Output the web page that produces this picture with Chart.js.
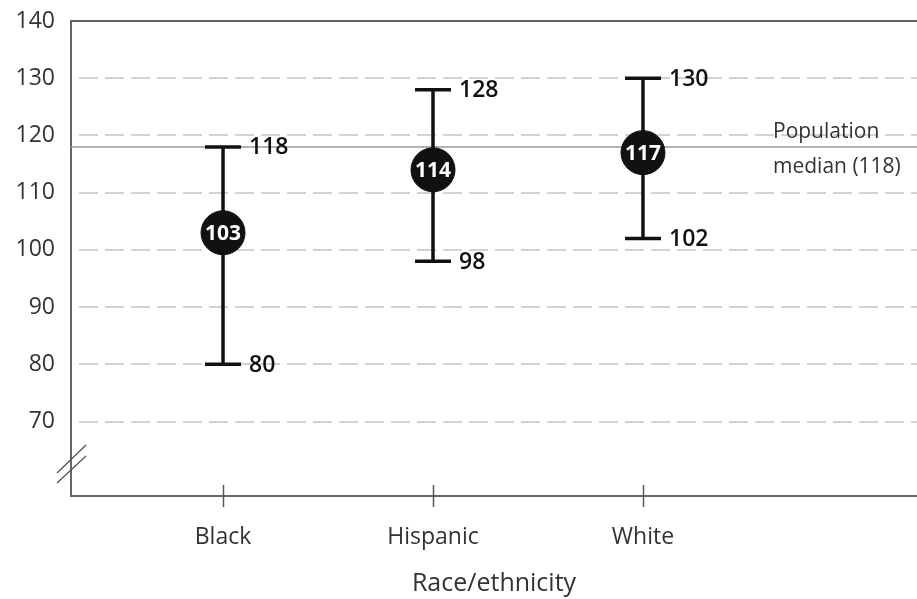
<!DOCTYPE html>
<html>
<head>
<meta charset="utf-8">
<script src="https://cdn.jsdelivr.net/npm/chart.js@4/dist/chart.umd.min.js"></script>
<style>
  html, body { margin: 0; padding: 0; background: #fff; }
  #wrap { width: 917px; height: 599px; position: relative; }
</style>
</head>
<body>
<div id="wrap"><canvas id="chart"></canvas></div>
<script>
// ── DATA ──
const categories = ['Black', 'Hispanic', 'White'];
const medians = [103, 114, 117];
const lows = [80, 98, 102];
const highs = [118, 128, 130];
const populationMedian = 118;
const medianLabel = ['Population', 'median (118)'];
const yTicks = [70, 80, 90, 100, 110, 120, 130, 140];

const FONT = "'Open Sans', sans-serif";
const X_MIN = 0.276, X_MAX = 4.305;

// ── DATASETS ──
const stemSets = categories.map((c, i) => ({
  type: 'scatter',
  showLine: true,
  data: [{ x: i + 1, y: lows[i] }, { x: i + 1, y: highs[i] }],
  borderColor: '#111',
  borderWidth: 3.5,
  pointRadius: 0,
  order: 3
}));

const capPoints = [];
categories.forEach((c, i) => {
  capPoints.push({ x: i + 1, y: highs[i] });
  capPoints.push({ x: i + 1, y: lows[i] });
});

const datasets = [
  {
    type: 'scatter',
    showLine: true,
    data: [{ x: X_MIN, y: populationMedian }, { x: X_MAX, y: populationMedian }],
    borderColor: '#9a9a9a',
    borderWidth: 1.5,
    pointRadius: 0,
    order: 5
  },
  ...stemSets,
  {
    type: 'scatter',
    data: capPoints,
    pointStyle: 'line',
    pointRadius: 18,
    borderColor: '#111',
    borderWidth: 3.5,
    order: 2
  },
  {
    type: 'scatter',
    data: categories.map((c, i) => ({ x: i + 1, y: medians[i] })),
    pointRadius: 22,
    backgroundColor: '#111',
    borderColor: '#111',
    borderWidth: 1,
    order: 1
  }
];
const capIndex = datasets.length - 2;
const dotIndex = datasets.length - 1;

// ── PLUGINS ──
const decorations = {
  id: 'decorations',
  afterDatasetsDraw(chart) {
    const { ctx, chartArea: a, scales: { x, y } } = chart;
    ctx.save();

    // top frame line
    ctx.strokeStyle = '#666';
    ctx.lineWidth = 2;
    ctx.beginPath();
    ctx.moveTo(a.left - 1, a.top);
    ctx.lineTo(a.right, a.top);
    ctx.stroke();

    // x tick marks crossing the axis
    ctx.strokeStyle = '#555';
    ctx.lineWidth = 1.5;
    categories.forEach((c, i) => {
      const px = Math.round(x.getPixelForValue(i + 1)) + 0.5;
      ctx.beginPath();
      ctx.moveTo(px, a.bottom - 11);
      ctx.lineTo(px, a.bottom + 11);
      ctx.stroke();
    });

    // axis break
    ctx.lineWidth = 1.3;
    [[23, 51], [13, 40]].forEach(([y0, y1]) => {
      ctx.beginPath();
      ctx.moveTo(a.left - 14, a.bottom - y0);
      ctx.lineTo(a.left + 15, a.bottom - y1);
      ctx.stroke();
    });

    // value labels beside caps
    ctx.fillStyle = '#111';
    ctx.font = `600 23px ${FONT}`;
    ctx.textAlign = 'left';
    ctx.textBaseline = 'middle';
    chart.getDatasetMeta(capIndex).data.forEach((pt, k) => {
      ctx.fillText(String(capPoints[k].y), pt.x + 26, pt.y + 1);
    });

    // median labels in circles
    ctx.fillStyle = '#fff';
    ctx.font = `700 21px ${FONT}`;
    ctx.textAlign = 'center';
    chart.getDatasetMeta(dotIndex).data.forEach((pt, k) => {
      ctx.fillText(String(medians[k]), pt.x, pt.y + 1);
    });

    // population median note
    const my = y.getPixelForValue(populationMedian);
    ctx.fillStyle = '#333';
    ctx.font = `400 21px ${FONT}`;
    ctx.textAlign = 'left';
    ctx.textBaseline = 'alphabetic';
    ctx.fillText(medianLabel[0], a.right - 144, my - 9);
    ctx.fillText(medianLabel[1], a.right - 144, my + 26);

    ctx.restore();
  }
};

// ── CHART ──
new Chart(document.getElementById('chart'), {
  type: 'scatter',
  data: { datasets },
  plugins: [decorations],
  options: {
    responsive: true,
    maintainAspectRatio: false,
    animation: false,
    layout: { autoPadding: false, padding: { top: 21, right: 0, left: 0, bottom: 0 } },
    plugins: {
      legend: { display: false },
      tooltip: { enabled: false }
    },
    scales: {
      x: {
        type: 'linear',
        min: X_MIN,
        max: X_MAX,
        afterBuildTicks: s => { s.ticks = categories.map((c, i) => ({ value: i + 1 })); },
        afterFit: s => { s.height = 103; s.paddingLeft = 0; s.paddingRight = 0; },
        grid: { drawOnChartArea: false, drawTicks: false },
        border: { color: '#666', width: 2 },
        ticks: {
          callback: v => categories[v - 1],
          color: '#333',
          font: { family: FONT, size: 23 },
          padding: 28,
          maxRotation: 0,
          autoSkip: false
        },
        title: {
          display: true,
          text: 'Race/ethnicity',
          color: '#333',
          font: { family: FONT, size: 25 },
          padding: { top: 0, bottom: 0 }
        }
      },
      y: {
        min: 57,
        max: 140,
        afterBuildTicks: s => { s.ticks = yTicks.map(v => ({ value: v })); },
        afterFit: s => { s.width = 71; s.paddingTop = 0; s.paddingBottom = 0; },
        grid: {
          color: c => (c.tick && c.tick.value === 140) ? 'rgba(0,0,0,0)' : '#d2d2d2',
          lineWidth: 2,
          drawTicks: false
        },
        border: { color: '#666', width: 2, dash: [19, 7], dashOffset: 19 },
        ticks: {
          color: '#333',
          font: { family: FONT, size: 23 },
          padding: 16
        }
      }
    }
  }
});
</script>
</body>
</html>
